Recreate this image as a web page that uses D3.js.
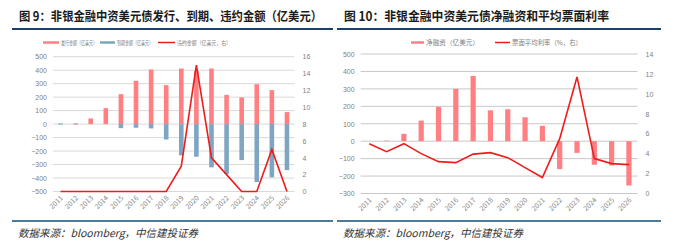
<!DOCTYPE html>
<html>
<head>
<meta charset="utf-8">
<script src="https://cdn.jsdelivr.net/npm/d3@7"></script>
<style>
  body { margin: 0; background: #fff; }
  svg { display: block; font-family: "Noto Sans CJK SC", "Noto Sans", sans-serif; }
  .tick text { fill: #7f7f7f; font-size: 7px; }
</style>
</head>
<body>
<svg id="chart" width="677" height="246"></svg>
<script>
// data
const years = ["2011","2012","2013","2014","2015","2016","2017","2018","2019","2020","2021","2022","2023","2024","2025","2026"];

// fig 9
const issued = [6, 6, 42, 118, 222, 321, 405, 289, 412, 395, 412, 217, 198, 296, 252, 89];
const matured = [-3, -3, 0, 0, -30, -27, -32, -114, -232, -242, -321, -370, -267, -430, -395, -341];
const defaults = [0, 0, 0, 0, 0, 0, 0, 0, 3, 15, 4, 2, 0, 0, 5, 0];
const leftTicks9 = [-500, -400, -300, -200, -100, 0, 100, 200, 300, 400, 500];
const rightTicks9 = [0, 2, 4, 6, 8, 10, 12, 14, 16];

// fig 10
const netFin = [0, 3, 42, 118, 197, 300, 374, 177, 183, 137, 88, -160, -67, -135, -139, -254];
const coupon = [5.0, 4.2, 5.0, 4.0, 3.2, 3.1, 3.95, 4.1, 3.6, 2.6, 1.6, 5.5, 11.7, 3.5, 3.0, 2.9];
const leftTicks10 = [-300, -200, -100, 0, 100, 200, 300, 400, 500];
const rightTicks10 = [0, 2, 4, 6, 8, 10, 12, 14];

const svg = d3.select("#chart");
const pink = "#ff7f83", blue = "#7ea6c2", red = "#ee1c1c";

function frame(x0, x1, title, titleLen, source) {
  svg.append("text").attr("x", x0 + 7).attr("y", 21)
    .attr("font-size", 12.5).attr("font-weight", "bold").attr("fill", "#1a1a1a")
    .attr("textLength", titleLen).attr("lengthAdjust", "spacingAndGlyphs")
    .text(title);
  svg.append("line").attr("x1", x0).attr("x2", x1).attr("y1", 29).attr("y2", 29)
    .attr("stroke", "#1f3f66").attr("stroke-width", 2);
  svg.append("line").attr("x1", x0).attr("x2", x1).attr("y1", 221).attr("y2", 221)
    .attr("stroke", "#4d7a98").attr("stroke-width", 2);
  svg.append("text").attr("x", x0 + 6).attr("y", 237)
    .attr("font-size", 10.5).attr("font-style", "italic").attr("fill", "#333")
    .attr("font-family", "'Noto Sans CJK SC', serif")
    .text(source);
}

function legend(items, y, fs) {
  items.forEach(it => {
    svg.append("line").attr("x1", it.x).attr("x2", it.x + it.len).attr("y1", y).attr("y2", y)
      .attr("stroke", it.color).attr("stroke-width", it.w);
    svg.append("text").attr("x", it.x + it.len + 2).attr("y", y + 2)
      .attr("font-size", fs).attr("fill", "#808080")
      .attr("textLength", it.tl).attr("lengthAdjust", "spacingAndGlyphs")
      .text(it.label);
  });
}

function axes(x, yL, yR, ticksL, ticksR, gridColor) {
  const [gx0, gx1] = x.range();
  svg.append("g").selectAll("line").data(ticksL).join("line")
    .attr("x1", gx0).attr("x2", gx1)
    .attr("y1", d => yL(d)).attr("y2", d => yL(d))
    .attr("stroke", gridColor).attr("stroke-width", 1);

  svg.append("g").attr("transform", `translate(${gx0 - 4},0)`)
    .call(d3.axisLeft(yL).tickValues(ticksL).tickSize(0).tickPadding(2))
    .call(g => g.select(".domain").remove());
  svg.append("g").attr("transform", `translate(${gx1 + 6},0)`)
    .call(d3.axisRight(yR).tickValues(ticksR).tickSize(0).tickPadding(2))
    .call(g => g.select(".domain").remove());

  const yb = yL.range()[0];
  svg.append("g").selectAll("text").data(x.domain()).join("text")
    .attr("transform", d => `translate(${x(d) + x.bandwidth() / 2 + 3},${yb + 7}) rotate(-45)`)
    .attr("text-anchor", "end").attr("font-size", 7).attr("fill", "#7f7f7f")
    .text(d => d);
}

// ---------- fig 9 ----------
frame(12, 333, "图 9：非银金融中资美元债发行、到期、违约金额（亿美元）", 303, "数据来源：bloomberg，中信建投证券");
legend([
  { x: 43, len: 16, color: pink, w: 2.5, label: "发行金额（亿美元）", tl: 36 },
  { x: 100, len: 15, color: blue, w: 2.5, label: "到期金额（亿美元）", tl: 36 },
  { x: 158, len: 17, color: red, w: 1.5, label: "违约金额（亿美元，右）", tl: 54 }
], 42.5, 5.5);

const x9 = d3.scaleBand().domain(years).range([53, 294.5]);
const yL9 = d3.scaleLinear().domain([-500, 500]).range([191.5, 56.7]);
const yR9 = d3.scaleLinear().domain([0, 16]).range([191.5, 56.7]);
axes(x9, yL9, yR9, leftTicks9, rightTicks9, "#d9d9d9");

const bw9 = 4.6;
svg.append("g").selectAll("rect").data(years).join("rect")
  .attr("x", (d, i) => x9(d) + x9.bandwidth() / 2 - bw9 / 2)
  .attr("width", bw9)
  .attr("y", (d, i) => yL9(issued[i]))
  .attr("height", (d, i) => yL9(0) - yL9(issued[i]))
  .attr("fill", pink);
svg.append("g").selectAll("rect").data(years).join("rect")
  .attr("x", (d, i) => x9(d) + x9.bandwidth() / 2 - bw9 / 2)
  .attr("width", bw9)
  .attr("y", yL9(0))
  .attr("height", (d, i) => yL9(matured[i]) - yL9(0))
  .attr("fill", blue);
svg.append("path")
  .datum(defaults)
  .attr("d", d3.line().x((d, i) => x9(years[i]) + x9.bandwidth() / 2).y(d => yR9(d)))
  .attr("fill", "none").attr("stroke", red).attr("stroke-width", 1.6);

// ---------- fig 10 ----------
frame(337, 661, "图 10：非银金融中资美元债净融资和平均票面利率", 265, "数据来源：bloomberg，中信建投证券");
legend([
  { x: 411, len: 13, color: pink, w: 2.5, label: "净融资（亿美元）", tl: 53 },
  { x: 495, len: 15, color: red, w: 1.5, label: "票面平均利率（%，右）", tl: 70 }
], 42.5, 6.5);

const x10 = d3.scaleBand().domain(years).range([360.6, 637.6]);
const yL10 = d3.scaleLinear().domain([-300, 500]).range([193.5, 54]);
const yR10 = d3.scaleLinear().domain([0, 14]).range([193.5, 54]);
axes(x10, yL10, yR10, leftTicks10, rightTicks10, "#c8c8c8");

const bw10 = 5.2;
svg.append("g").selectAll("rect").data(years).join("rect")
  .attr("x", (d, i) => x10(d) + x10.bandwidth() / 2 - bw10 / 2)
  .attr("width", bw10)
  .attr("y", (d, i) => yL10(Math.max(0, netFin[i])))
  .attr("height", (d, i) => Math.abs(yL10(netFin[i]) - yL10(0)))
  .attr("fill", pink);
svg.append("path")
  .datum(coupon)
  .attr("d", d3.line().x((d, i) => x10(years[i]) + x10.bandwidth() / 2).y(d => yR10(d)))
  .attr("fill", "none").attr("stroke", red).attr("stroke-width", 1.6);
</script>
</body>
</html>
